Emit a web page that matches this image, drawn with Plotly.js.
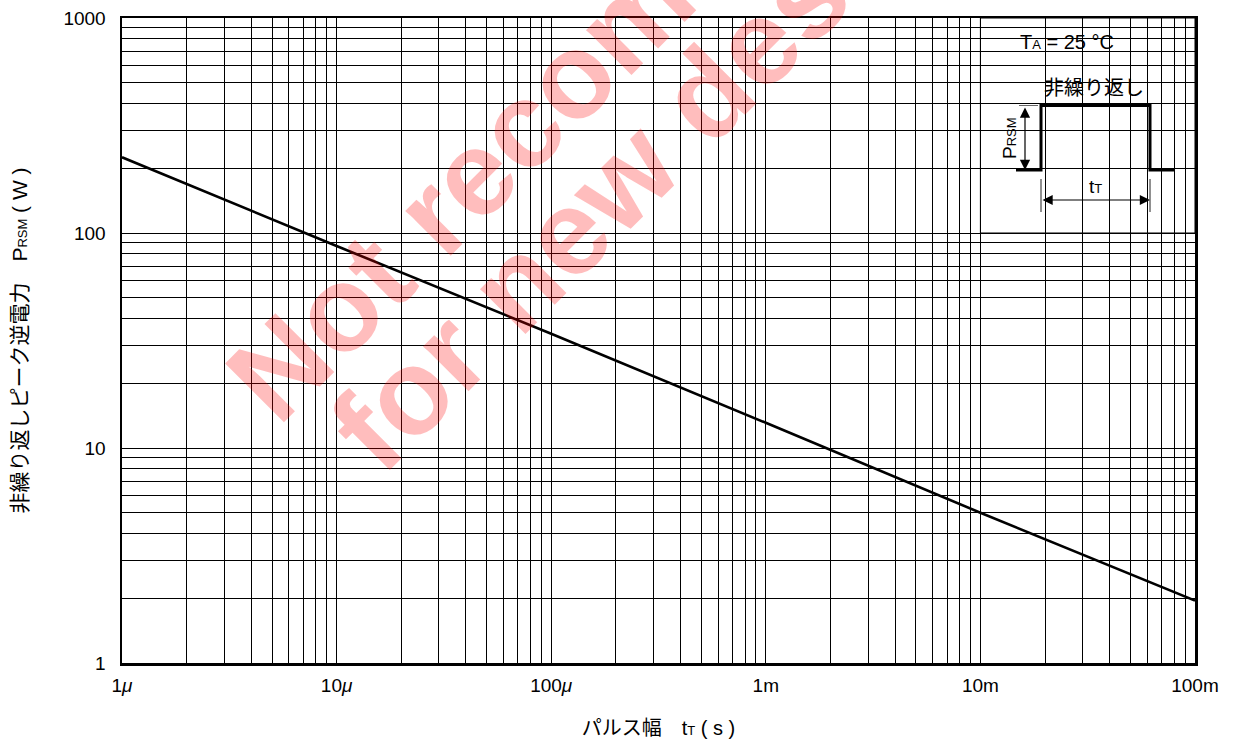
<!DOCTYPE html>
<html>
<head>
<meta charset="utf-8">
<script src="https://cdn.plot.ly/plotly-3.0.1.min.js"></script>
<style>html,body{margin:0;padding:0;background:#fff;}#chart{width:1234px;height:744px;}</style>
</head>
<body>
<div id="chart"></div>
<script>
// ---- data ----
const pulseWidth_s = [1e-6, 1e-5, 1e-4, 1e-3, 1e-2, 1e-1];
const peakPower_W = [225, 87, 34, 13.1, 5.0, 1.95];

const xTickVals = [1e-6, 1e-5, 1e-4, 1e-3, 1e-2, 1e-1];
const xTickText = ['1<i>μ</i>', '10<i>μ</i>', '100<i>μ</i>', '1m', '10m', '100m'];
const yTickVals = [1, 10, 100, 1000];
const yTickText = ['1', '10', '100', '1000'];

const xTitle = 'パルス幅　t<span style="font-size:13px">T</span> ( s )';
const yTitle = '非繰り返しピーク逆電力　P<span style="font-size:13px">RSM</span> ( W )';
const condText = 'T<span style="font-size:13px">A</span> = 25 °C';
const pulseLabel = '非繰り返し';
const ampLabel = 'P<span style="font-size:13px">RSM</span>';
const widthLabel = 't<span style="font-size:13px">T</span>';
const watermark1 = '<b>Not recommended</b>';
const watermark2 = '<b>for new design</b>';

// ---- layout helpers (pixel -> paper) ----
const L = 122, R = 1195, T = 18, B = 663;
const X = px => (px - L) / (R - L);
const Y = py => (B - py) / (B - T);
const FONT = 'Liberation Sans, Arial, Noto Sans CJK JP, sans-serif';

const trace = {
  x: pulseWidth_s, y: peakPower_W, type: 'scatter', mode: 'lines',
  line: {color: '#000', width: 2.6}, hoverinfo: 'skip'
};

const gridAxis = {
  type: 'log', showgrid: true, gridcolor: '#000', gridwidth: 1,
  minor: {dtick: 'D1', showgrid: true, gridcolor: '#000', gridwidth: 1, ticks: ''},
  showline: true, mirror: true, linecolor: '#000', linewidth: 2.5,
  ticks: '', zeroline: false, tickmode: 'array',
  tickfont: {family: FONT, size: 19, color: '#000'}, automargin: false
};

const pulsePath = 'M' + X(1016) + ',' + Y(170) + ' L' + X(1041) + ',' + Y(170) +
  ' L' + X(1041) + ',' + Y(105.5) + ' L' + X(1150) + ',' + Y(105.5) +
  ' L' + X(1150) + ',' + Y(170) + ' L' + X(1175) + ',' + Y(170);

const shapes = [
  {type: 'rect', xref: 'paper', yref: 'paper', x0: 0.8, x1: 1, y0: 2/3, y1: 1,
   fillcolor: '#fff', line: {color: '#000', width: 1}, layer: 'between'},
  {type: 'path', xref: 'paper', yref: 'paper', path: pulsePath,
   line: {color: '#000', width: 3}, layer: 'above'},
  {type: 'line', xref: 'paper', yref: 'paper', x0: X(1019), x1: X(1038), y0: Y(105.5), y1: Y(105.5),
   line: {color: '#666', width: 1}},
  {type: 'line', xref: 'paper', yref: 'paper', x0: X(1041), x1: X(1041), y0: Y(179), y1: Y(212),
   line: {color: '#222', width: 1}},
  {type: 'line', xref: 'paper', yref: 'paper', x0: X(1150), x1: X(1150), y0: Y(179), y1: Y(212),
   line: {color: '#222', width: 1}}
];

const annotations = [
  {xref: 'paper', yref: 'paper', x: 0.4677, y: 0.9926, text: watermark1, showarrow: false,
   textangle: -45, xanchor: 'center', yanchor: 'middle',
   font: {family: 'Liberation Sans, Arial, sans-serif', size: 121, color: 'rgba(255,0,0,0.26)'}},
  {xref: 'paper', yref: 'paper', x: 0.4961, y: 0.8011, text: watermark2, showarrow: false,
   textangle: -45, xanchor: 'center', yanchor: 'middle',
   font: {family: 'Liberation Sans, Arial, sans-serif', size: 121, color: 'rgba(255,0,0,0.26)'}},
  {xref: 'paper', yref: 'paper', x: X(1067), y: Y(42), text: condText, showarrow: false,
   xanchor: 'center', yanchor: 'middle', font: {family: FONT, size: 20, color: '#000'}},
  {xref: 'paper', yref: 'paper', x: X(1094), y: Y(88), text: pulseLabel, showarrow: false,
   xanchor: 'center', yanchor: 'middle', font: {family: FONT, size: 20, color: '#000'}},
  {xref: 'paper', yref: 'paper', x: X(1009), y: Y(138), text: ampLabel, showarrow: false,
   textangle: -90, xanchor: 'center', yanchor: 'middle', font: {family: FONT, size: 19, color: '#000'}},
  {xref: 'paper', yref: 'paper', x: X(1095), y: Y(187), text: widthLabel, showarrow: false,
   xanchor: 'center', yanchor: 'middle', font: {family: FONT, size: 19, color: '#000'}},
  // P_RSM double arrow
  {xref: 'paper', yref: 'paper', x: X(1025), y: Y(170), ax: 0, ay: -64, text: '',
   showarrow: true, arrowside: 'end+start', arrowhead: 2, startarrowhead: 2,
   arrowsize: 1.7, startarrowsize: 1.7, arrowwidth: 1.2, arrowcolor: '#000', standoff: 0, startstandoff: 0},
  // t_T double arrow
  {xref: 'paper', yref: 'paper', x: X(1150), y: Y(200), ax: -109, ay: 0, text: '',
   showarrow: true, arrowside: 'end+start', arrowhead: 2, startarrowhead: 2,
   arrowsize: 1.7, startarrowsize: 1.7, arrowwidth: 1.2, arrowcolor: '#000', standoff: 0, startstandoff: 0}
];

const layout = {
  width: 1234, height: 744,
  margin: {l: L, r: 1234 - R, t: T, b: 744 - B, pad: 0},
  paper_bgcolor: '#fff', plot_bgcolor: '#fff', showlegend: false,
  font: {family: FONT, color: '#000'},
  xaxis: Object.assign({}, gridAxis, {
    range: [-6, -1], tickvals: xTickVals, ticktext: xTickText, ticklabelstandoff: 4,
    title: {text: xTitle, font: {family: FONT, size: 20, color: '#000'}, standoff: 26}
  }),
  yaxis: Object.assign({}, gridAxis, {
    range: [0, 3], tickvals: yTickVals, ticktext: yTickText, ticklabelstandoff: 10,
    title: {text: yTitle, font: {family: FONT, size: 21, color: '#000'}, standoff: 30}
  }),
  shapes: shapes,
  annotations: annotations
};

Plotly.newPlot('chart', [trace], layout, {staticPlot: true, displayModeBar: false});
</script>
</body>
</html>
